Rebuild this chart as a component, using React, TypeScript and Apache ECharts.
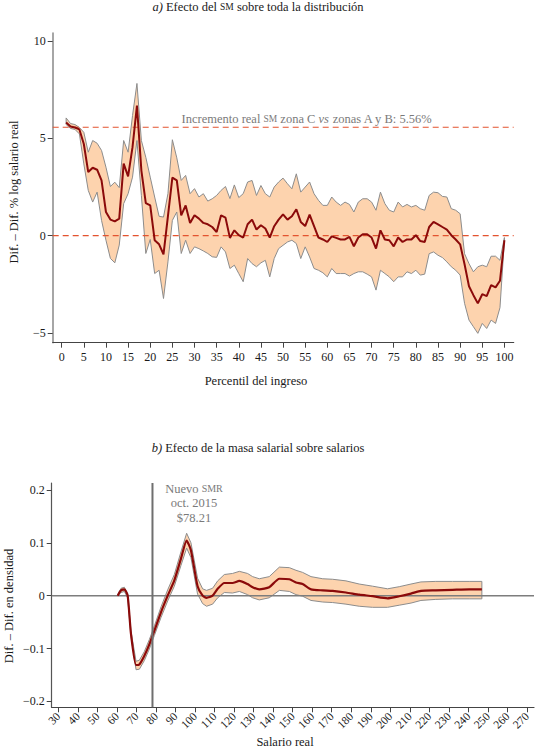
import React, { useEffect, useRef } from "react";
import * as echarts from "echarts";

// ---------- Panel a) ----------
const percentiles = [
  1, 2, 3, 4, 5, 6, 7, 8, 9, 10, 11, 12, 13, 14, 15, 16, 17, 18, 19, 20,
  21, 22, 23, 24, 25, 26, 27, 28, 29, 30, 31, 32, 33, 34, 35, 36, 37, 38, 39, 40,
  41, 42, 43, 44, 45, 46, 47, 48, 49, 50, 51, 52, 53, 54, 55, 56, 57, 58, 59, 60,
  61, 62, 63, 64, 65, 66, 67, 68, 69, 70, 71, 72, 73, 74, 75, 76, 77, 78, 79, 80,
  81, 82, 83, 84, 85, 86, 87, 88, 89, 90, 91, 92, 93, 94, 95, 96, 97, 98, 99, 100,
];
const effectA = [
  5.8, 5.6, 5.55, 5.45, 4.7, 3.26, 3.48, 3.38, 2.83, 1.21,
  0.82, 0.73, 0.87, 3.69, 3.04, 4.54, 6.67, 3.34, 1.67, 1.55,
  -0.24, -0.45, -0.96, 1.0, 2.97, 2.83, 1.04, 1.55, 0.65, 1.04,
  0.87, 0.65, 0.58, 0.44, 0.18, 1.04, 0.92, -0.12, 0.27, 0.02,
  -0.1, 0.58, 0.82, 0.31, 0.53, 0.36, -0.1, 0.48, 0.82, 1.09,
  0.82, 0.99, 1.35, 0.7, 0.49, 1.07, 0.48, -0.1, -0.2, -0.33,
  -0.04, -0.12, -0.2, -0.2, -0.07, -0.55, -0.1, 0.07, 0.07, -0.1,
  -0.67, 0.27, -0.2, -0.24, -0.55, -0.1, -0.33, -0.2, -0.2, 0.02,
  -0.28, -0.33, 0.44, 0.7, 0.58, 0.44, 0.31, 0.02, -0.2, -0.45,
  -1.47, -2.6, -3.06, -3.48, -3.01, -3.11, -2.54, -2.66, -2.32, -0.24,
];
const upperA = [
  6.04, 5.75, 5.7, 5.55, 5.3, 4.28, 4.88, 4.74, 4.37, 3.51,
  2.52, 2.74, 2.46, 4.88, 4.28, 6.16, 7.81, 4.88, 4.02, 3.0,
  1.98, 0.99, 0.95, 2.15, 4.92, 3.99, 2.83, 3.09, 2.15, 2.41,
  1.98, 2.15, 1.77, 1.89, 2.06, 2.32, 2.52, 1.9, 2.6, 1.95,
  2.15, 2.75, 2.83, 2.06, 2.57, 2.15, 1.98, 2.49, 2.75, 2.95,
  2.66, 2.4, 3.17, 2.23, 2.49, 2.75, 2.15, 1.81, 1.55, 1.55,
  1.98, 1.72, 1.55, 1.72, 1.6, 1.21, 1.72, 1.89, 1.89, 1.72,
  1.3, 2.23, 1.64, 1.3, 1.21, 1.72, 1.47, 1.6, 1.47, 1.55,
  1.38, 1.3, 2.06, 2.23, 2.2, 2.01, 1.98, 1.38, 1.3, 1.12,
  -0.93, -1.44, -1.86, -1.6, -1.52, -1.6, -1.06, -1.06, -1.27, -0.1,
];
const lowerA = [
  5.7, 5.5, 5.45, 5.22, 3.68, 2.32, 1.72, 2.23, 0.78, -0.24,
  -1.17, -1.4, -0.49, 1.64, 2.15, 3.0, 4.88, 2.06, -0.92, -0.2,
  -1.95, -1.78, -3.23, -1.35, 0.78, 1.21, -0.92, -0.24, -0.92, -0.58,
  -0.67, -0.79, -0.92, -1.09, -1.12, -0.58, -0.84, -1.69, -1.52, -1.95,
  -2.37, -1.18, -1.44, -1.6, -1.4, -1.27, -2.12, -1.18, -0.67, -0.5,
  -0.33, -0.24, -0.41, -1.18, -0.58, -1.1, -1.69, -1.78, -1.91, -2.12,
  -1.69, -1.95, -1.95, -1.95, -2.08, -1.95, -1.86, -1.86, -1.98, -2.12,
  -2.8, -1.78, -1.95, -2.12, -2.37, -2.12, -2.12, -1.86, -1.95, -1.78,
  -2.03, -1.98, -0.93, -0.84, -1.01, -1.13, -1.35, -1.6, -1.78, -2.03,
  -3.48, -4.34, -4.68, -5.02, -4.51, -4.77, -4.34, -4.51, -3.7, -0.24,
];
const realIncrease = 5.56;
const xRangeA = [-2.03, 102.1];
const yRangeA = [-5.5, 10.4];
const xTicksA = [0, 5, 10, 15, 20, 25, 30, 35, 40, 45, 50, 55, 60, 65, 70, 75, 80, 85, 90, 95, 100];
const yTicksA = [-5, 0, 5, 10];

// ---------- Panel b) ----------
const salary = [
  60.4, 62.1, 63.8, 65.5, 67.2, 69.8, 71.5, 74.0, 76.6, 79.2, 82.6, 86.0, 89.4, 92.8, 95.7, 97.9,
  101.3, 103.9, 105.9, 109.0, 111.6, 115.0, 119.2, 122.7, 126.9, 129.5, 132.9, 138.0, 143.2, 148.3,
  151.7, 155.1, 159.4, 165.4, 170.5, 177.3, 184.1, 190.9, 198.6, 204.6, 210.6, 215.7, 223.3, 231.9,
  240.4, 246.9,
];
const density = [
  0, 0.01, 0.012, 0, -0.072, -0.131, -0.13, -0.114, -0.092, -0.066, -0.031, 0, 0.029, 0.07, 0.104, 0.086,
  0.018, 0, -0.004, 0, 0.013, 0.024, 0.024, 0.028, 0.022, 0.016, 0.012, 0.016, 0.032, 0.031,
  0.025, 0.022, 0.012, 0.01, 0.009, 0.006, 0.002, -0.001, -0.005, -0.001, 0.004, 0.009, 0.01, 0.011,
  0.012, 0.012,
];
const lowerB = [
  0, 0.006, 0.008, -0.004, -0.077, -0.14, -0.139, -0.123, -0.101, -0.075, -0.041, -0.01, 0.018, 0.057, 0.09, 0.072,
  0.003, -0.015, -0.02, -0.016, -0.004, 0.006, 0.005, 0.008, 0.002, -0.004, -0.008, -0.004, 0.01, 0.008,
  0.002, -0.001, -0.009, -0.012, -0.013, -0.016, -0.02, -0.022, -0.022, -0.018, -0.014, -0.009, -0.007, -0.006,
  -0.006, -0.006,
];
const upperB = [
  0.002, 0.014, 0.016, 0.004, -0.067, -0.124, -0.122, -0.106, -0.083, -0.057, -0.021, 0.011, 0.04, 0.083, 0.118, 0.1,
  0.033, 0.013, 0.01, 0.014, 0.028, 0.04, 0.042, 0.046, 0.042, 0.036, 0.032, 0.036, 0.054, 0.053,
  0.048, 0.044, 0.036, 0.032, 0.031, 0.028, 0.022, 0.018, 0.013, 0.017, 0.022, 0.026, 0.027, 0.027,
  0.027, 0.027,
];
const newMinWage = 78.21;
const xRangeB = [26.6, 273.6];
const yRangeB = [-0.211, 0.213];
const xTicksB = [30, 40, 50, 60, 70, 80, 90, 100, 110, 120, 130, 140, 150, 160, 170, 180, 190, 200, 210, 220, 230, 240, 250, 260, 270];
const yTicksB = [-0.2, -0.1, 0, 0.1, 0.2];

const FONT = "Liberation Serif, DejaVu Serif, serif";
const BAND = "#fdd3ae";
const OUTLINE = "#8c8c8c";
const RED = "#8b0a0a";
const DASH = "#e4532f";

const minus = (s: string) => s.replace("-", "\u2212");

function bandSeries(xs: number[], lo: number[], up: number[], axis: number) {
  return {
    type: "custom",
    xAxisIndex: axis,
    yAxisIndex: axis,
    silent: true,
    clip: true,
    z: 1,
    data: xs.map((x, i) => [x, lo[i], up[i]]),
    encode: { x: 0, y: [1, 2] },
    renderItem: (params: any, api: any) => {
      if (params.dataIndex !== 0) return null;
      const pts: number[][] = [];
      for (let i = 0; i < xs.length; i++) pts.push(api.coord([xs[i], up[i]]));
      for (let i = xs.length - 1; i >= 0; i--) pts.push(api.coord([xs[i], lo[i]]));
      return {
        type: "polygon",
        shape: { points: pts },
        style: { fill: BAND, stroke: OUTLINE, lineWidth: 1 },
      };
    },
  };
}

function refLine(axis: number, data: number[][], color: string, width: number, type: any, z: number) {
  return {
    type: "line",
    xAxisIndex: axis,
    yAxisIndex: axis,
    data,
    symbol: "none",
    silent: true,
    color,
    lineStyle: { color, width, type, opacity: 1 },
    z,
  };
}

function App() {
  const ref = useRef<HTMLDivElement | null>(null);

  useEffect(() => {
    if (!ref.current) return;
    const chart = echarts.init(ref.current, null, { renderer: "svg" });

    const pair = (xs: number[], ys: number[]) => xs.map((x, i) => [x, ys[i]]);

    const axisLabel = (vals: number[], fmt: (v: number) => string, extra: any = {}) => ({
      customValues: vals,
      formatter: (v: number) => fmt(v),
      color: "#1a1a1a",
      fontSize: 12,
      fontFamily: FONT,
      ...extra,
    });

    const txt = (x: number, y: number, text: string, extra: any = {}, rotation = 0) => ({
      type: "text",
      x,
      y,
      rotation,
      style: {
        text,
        fill: "#1a1a1a",
        fontFamily: FONT,
        fontSize: 12.5,
        align: "center",
        verticalAlign: "middle",
        textAlign: "center",
        textVerticalAlign: "middle",
        ...extra,
      },
    });

    const option: any = {
      animation: false,
      textStyle: { fontFamily: FONT },
      grid: [
        { left: 52.7, right: 22.3, top: 33, height: 309.7, outerBoundsMode: "none" },
        { left: 51.7, right: 2, top: 483, height: 224.3, outerBoundsMode: "none" },
      ],
      xAxis: [
        {
          type: "value",
          gridIndex: 0,
          min: xRangeA[0],
          max: xRangeA[1],
          axisLine: { show: true, onZero: false, lineStyle: { color: "#444", width: 1.2 } },
          axisTick: { show: true, customValues: xTicksA, length: 5, lineStyle: { color: "#444" } },
          axisLabel: axisLabel(xTicksA, (v) => String(v), { margin: 8 }),
          splitLine: { show: false },
        },
        {
          type: "value",
          gridIndex: 1,
          min: xRangeB[0],
          max: xRangeB[1],
          axisLine: { show: true, onZero: false, lineStyle: { color: "#444", width: 1.2 } },
          axisTick: { show: true, customValues: xTicksB, length: 5, lineStyle: { color: "#444" } },
          axisLabel: axisLabel(xTicksB, (v) => String(v), { rotate: 45, margin: 7, fontSize: 11.5 }),
          splitLine: { show: false },
        },
      ],
      yAxis: [
        {
          type: "value",
          gridIndex: 0,
          min: yRangeA[0],
          max: yRangeA[1],
          axisLine: { show: true, onZero: false, lineStyle: { color: "#888", width: 1.5 } },
          axisTick: { show: true, customValues: yTicksA, length: 5, lineStyle: { color: "#444" } },
          axisLabel: axisLabel(yTicksA, (v) => minus(String(v)), { margin: 7 }),
          splitLine: { show: false },
        },
        {
          type: "value",
          gridIndex: 1,
          min: yRangeB[0],
          max: yRangeB[1],
          axisLine: { show: true, onZero: false, lineStyle: { color: "#555", width: 1.2 } },
          axisTick: { show: true, customValues: yTicksB, length: 5, lineStyle: { color: "#444" } },
          axisLabel: axisLabel(yTicksB, (v) => (v === 0 ? "0" : minus(v.toFixed(1))), { margin: 7 }),
          splitLine: { show: false },
        },
      ],
      series: [
        bandSeries(percentiles, lowerA, upperA, 0),
        refLine(0, [[xRangeA[0], realIncrease], [xRangeA[1], realIncrease]], DASH, 1.2, [6, 4], 2),
        refLine(0, [[xRangeA[0], 0], [xRangeA[1], 0]], DASH, 1.2, [6, 4], 2),
        {
          type: "line",
          xAxisIndex: 0,
          yAxisIndex: 0,
          data: pair(percentiles, effectA),
          symbol: "none",
          silent: true,
          lineStyle: { color: RED, width: 2 },
          z: 3,
        },
        bandSeries(salary, lowerB, upperB, 1),
        refLine(1, [[xRangeB[0], 0], [xRangeB[1], 0]], "#7d7d7d", 1.5, "solid", 2),
        {
          type: "line",
          xAxisIndex: 1,
          yAxisIndex: 1,
          data: pair(salary, density),
          symbol: "none",
          smooth: 0.2,
          silent: true,
          lineStyle: { color: RED, width: 2.2 },
          z: 3,
        },
        refLine(1, [[newMinWage, yRangeB[0]], [newMinWage, yRangeB[1]]], "#6f6f6f", 2, "solid", 4),
      ],
      graphic: [
        txt(258, 7, "{i|a)} Efecto del {sc|SM} sobre toda la distribución", {
          rich: {
            i: { fontStyle: "italic", fontFamily: FONT, fontSize: 12.5, fill: "#1a1a1a" },
            sc: { fontFamily: FONT, fontSize: 9.5, fill: "#1a1a1a" },
          },
        }),
        txt(307, 119, "Incremento real {sc|SM} zona C {i|vs} zonas A y B: 5.56%", {
          fill: "#7a7a7a",
          rich: {
            i: { fontStyle: "italic", fontFamily: FONT, fontSize: 12.5, fill: "#7a7a7a" },
            sc: { fontFamily: FONT, fontSize: 9.5, fill: "#7a7a7a" },
          },
        }),
        txt(14, 192, "Dif. – Dif. % log salario real", {}, Math.PI / 2),
        txt(256, 381, "Percentil del ingreso"),
        txt(258, 448, "{i|b)} Efecto de la masa salarial sobre salarios", {
          rich: { i: { fontStyle: "italic", fontFamily: FONT, fontSize: 12.5, fill: "#1a1a1a" } },
        }),
        txt(194, 503, "Nuevo {sc|SMR}\noct. 2015\n$78.21", {
          fill: "#7a7a7a",
          lineHeight: 14.5,
          rich: { sc: { fontFamily: FONT, fontSize: 10, fill: "#7a7a7a", lineHeight: 14.5 } },
        }),
        txt(9, 606, "Dif. – Dif. en densidad", {}, Math.PI / 2),
        txt(285, 742, "Salario real"),
      ],
    };

    chart.setOption(option);
    return () => chart.dispose();
  }, []);

  return (
    <div
      ref={ref}
      style={{ position: "absolute", left: 0, top: 0, width: 536, height: 750, background: "#fff" }}
    />
  );
}

export default App;
